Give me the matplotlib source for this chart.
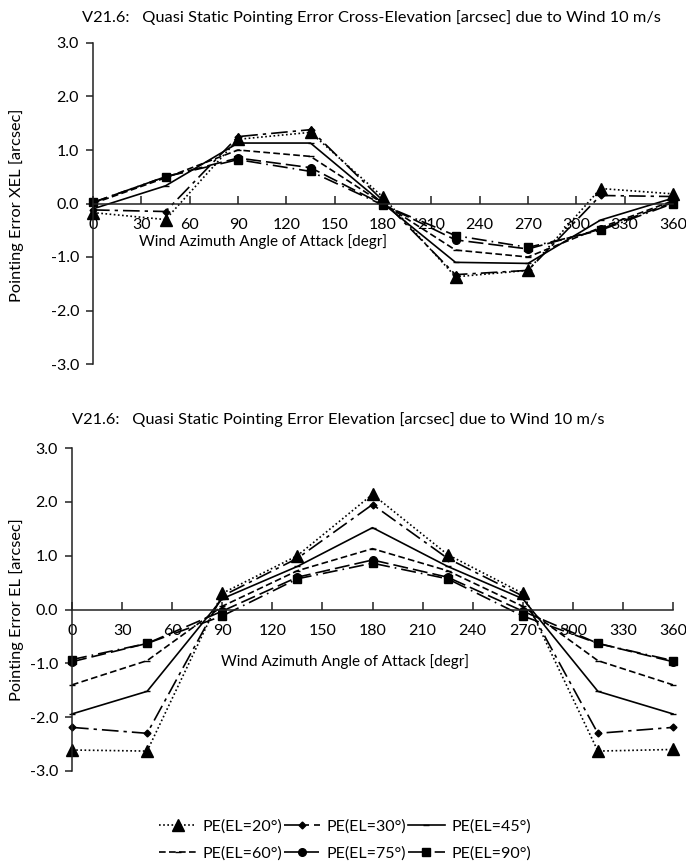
import matplotlib
matplotlib.use("Agg")
import matplotlib.pyplot as plt

plt.rcParams['font.family'] = ['Lato', 'DejaVu Sans']
plt.rcParams['axes.unicode_minus'] = False

# wind azimuth angle of attack [degr]
azimuth = [0, 45, 90, 135, 180, 225, 270, 315, 360]
names = ["PE(EL=20°)", "PE(EL=30°)", "PE(EL=45°)",
         "PE(EL=60°)", "PE(EL=75°)", "PE(EL=90°)"]

# cross-elevation pointing error [arcsec]
xel_20 = [-0.17, -0.30, 1.20, 1.33, 0.12, -1.37, -1.25, 0.28, 0.18]
xel_30 = [-0.12, -0.15, 1.25, 1.38, 0.05, -1.33, -1.25, 0.15, 0.13]
xel_45 = [-0.10, 0.33, 1.13, 1.13, 0.00, -1.10, -1.12, -0.31, 0.10]
xel_60 = [0.00, 0.48, 1.00, 0.88, 0.00, -0.87, -1.00, -0.45, 0.05]
xel_75 = [0.02, 0.50, 0.85, 0.67, -0.02, -0.68, -0.85, -0.48, 0.02]
xel_90 = [0.02, 0.50, 0.82, 0.60, -0.03, -0.60, -0.82, -0.50, 0.00]

# elevation pointing error [arcsec]
el_20 = [-2.61, -2.63, 0.30, 1.00, 2.14, 1.02, 0.30, -2.63, -2.60]
el_30 = [-2.19, -2.30, 0.25, 0.95, 1.95, 0.95, 0.25, -2.30, -2.19]
el_45 = [-1.94, -1.52, 0.20, 0.80, 1.52, 0.80, 0.20, -1.52, -1.94]
el_60 = [-1.40, -0.95, 0.06, 0.72, 1.13, 0.72, 0.06, -0.95, -1.40]
el_75 = [-0.97, -0.63, -0.03, 0.60, 0.92, 0.60, -0.03, -0.63, -0.97]
el_90 = [-0.93, -0.63, -0.12, 0.57, 0.86, 0.57, -0.12, -0.63, -0.95]

styles = [
    dict(ls=(0, (1, 1.5)), marker='^', ms=8),
    dict(ls=(0, (10, 3, 2, 3)), marker='D', ms=3.5),
    dict(ls='-', marker='_', ms=5),
    dict(ls=(0, (4, 2)), marker='_', ms=5),
    dict(ls=(0, (9, 3)), marker='o', ms=5.5),
    dict(ls=(0, (9, 3, 1, 3)), marker='s', ms=6),
]

fig = plt.figure(figsize=(6.86, 8.61), dpi=100)
ax1 = fig.add_axes([93 / 686, 1 - 364 / 861, 580 / 686, 321 / 861])
ax2 = fig.add_axes([72 / 686, 1 - 771 / 861, 601 / 686, 323 / 861])


def setup(ax):
    ax.set_xlim(0, 360)
    ax.set_ylim(-3, 3)
    ax.spines['top'].set_visible(False)
    ax.spines['right'].set_visible(False)
    ax.spines['bottom'].set_position(('data', 0))
    ax.spines['left'].set_position(('data', 0))
    for s in ('bottom', 'left'):
        ax.spines[s].set_linewidth(1.1)
        ax.spines[s].set_color('#222222')
    ax.set_xticks(range(0, 361, 30))
    yt = [-3, -2, -1, 0, 1, 2, 3]
    ax.set_yticks(yt)
    ax.set_yticklabels([f"{v:.1f}" for v in yt])
    ax.tick_params(axis='x', direction='in', length=6, width=1.1, pad=10.5,
                   labelsize=11.5, color='#222222')
    ax.tick_params(axis='y', direction='out', length=5, width=1.1, pad=5,
                   labelsize=11.5, color='#222222')
    ax.patch.set_alpha(0)


lines = []
for data, ax in (([xel_20, xel_30, xel_45, xel_60, xel_75, xel_90], ax1),
                 ([el_20, el_30, el_45, el_60, el_75, el_90], ax2)):
    setup(ax)
    handles = []
    for vals, st, nm in zip(data, styles, names):
        h, = ax.plot(azimuth, vals, color='black', lw=1.2, ls=st['ls'],
                     marker=st['marker'], ms=st['ms'], mfc='black',
                     mec='black', label=nm, clip_on=False)
        handles.append(h)
    lines = handles

fig.text(371 / 686, 1 - 18 / 861,
         "V21.6:   Quasi Static Pointing Error Cross-Elevation [arcsec] due to Wind 10 m/s",
         ha='center', va='center', fontsize=11.8)
fig.text(338 / 686, 1 - 420 / 861,
         "V21.6:   Quasi Static Pointing Error Elevation [arcsec] due to Wind 10 m/s",
         ha='center', va='center', fontsize=11.8)
fig.text(263 / 686, 1 - 242 / 861, "Wind Azimuth Angle of Attack [degr]",
         ha='center', va='center', fontsize=11)
fig.text(345 / 686, 1 - 662 / 861, "Wind Azimuth Angle of Attack [degr]",
         ha='center', va='center', fontsize=11)
fig.text(17 / 686, 1 - 205 / 861, "Pointing Error XEL [arcsec]",
         ha='center', va='center', rotation=90, fontsize=11.8)
fig.text(17 / 686, 1 - 610 / 861, "Pointing Error EL [arcsec]",
         ha='center', va='center', rotation=90, fontsize=11.8)

order = [0, 3, 1, 4, 2, 5]
fig.legend([lines[i] for i in order], [names[i] for i in order],
           loc='center', bbox_to_anchor=(345 / 686, 1 - 840 / 861), ncol=3,
           frameon=False, fontsize=11.5, handlelength=2.3, handletextpad=0.4,
           columnspacing=0.1, labelspacing=0.75)

fig.savefig("out.png", dpi=100)
